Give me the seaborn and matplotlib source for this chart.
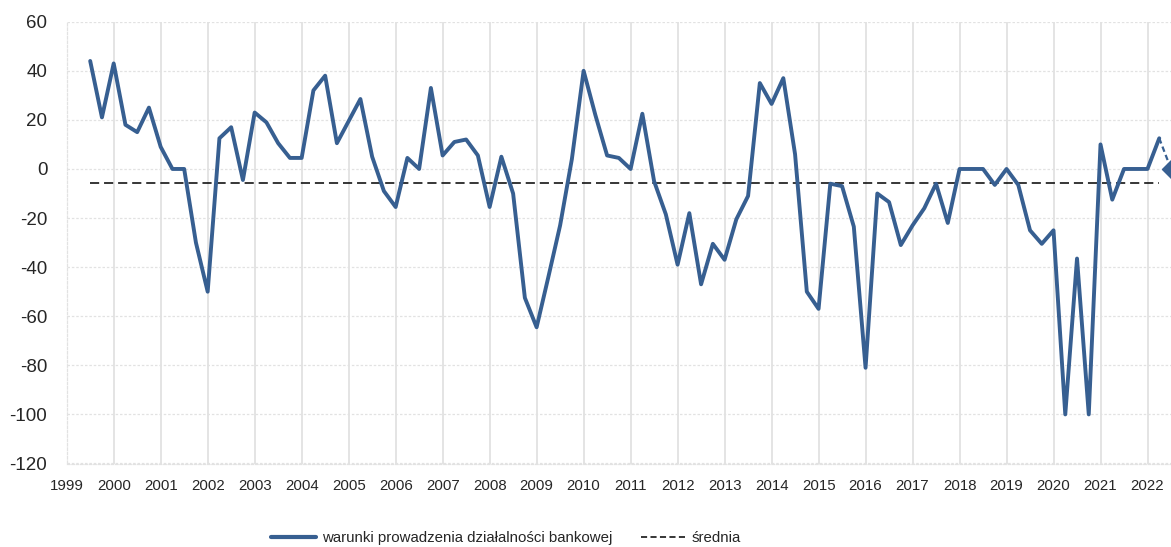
import numpy as np
import pandas as pd
import matplotlib
matplotlib.use("Agg")
import matplotlib.pyplot as plt
import matplotlib.font_manager as fm
from matplotlib.lines import Line2D
import seaborn as sns

# Quarterly index: first observation Q3 1999, last observation Q2 2022
start_year = 1999.5
values = [
    44, 21,
    43, 18, 15, 25,
    9, 0, 0, -30,
    -50, 12.5, 17, -4.5,
    23, 19, 10.5, 4.5,
    4.5, 32, 38, 10.5,
    19.5, 28.5, 5, -9,
    -15.5, 4.5, 0, 33,
    5.5, 11, 12, 5.5,
    -15.5, 5, -10, -52.5,
    -64.5, -44, -23, 4,
    40, 22, 5.5, 4.5,
    0, 22.5, -5, -18.5,
    -39, -18, -47, -30.5,
    -37, -20.5, -11, 35,
    26.5, 37, 6, -50,
    -57, -6, -7, -23.5,
    -81, -10, -13.5, -31,
    -23, -16, -6, -22,
    0, 0, 0, -6.5,
    0, -6.5, -25, -30.5,
    -25, -100, -36.5, -100,
    10, -12.5, 0, 0,
    0, 12.5,
]
# Expected value for the next quarter
forecast_t = 2022.5
forecast_v = 0

years = list(range(1999, 2023))
yticks = [60, 40, 20, 0, -20, -40, -60, -80, -100, -120]
series_label = "warunki prowadzenia działalności bankowej"
mean_label = "średnia"

t = start_year + 0.25 * np.arange(len(values))
df = pd.DataFrame({"t": t, "v": values})
mean_val = float(np.mean(values))
df_mean = pd.DataFrame({"t": [t[0], t[-1]], "v": [mean_val, mean_val]})
df_fc = pd.DataFrame({"t": [t[-1], forecast_t], "v": [values[-1], forecast_v]})

sns.set_style("white")
names = {f.name for f in fm.fontManager.ttflist}
if "Liberation Sans Narrow" in names:
    narrow = ["Liberation Sans Narrow", "DejaVu Sans"]
    xt_size, leg_size = 12.5, 13
else:
    narrow = ["Liberation Sans", "DejaVu Sans"]
    xt_size, leg_size = 10.8, 10.8
regular = ["Liberation Sans", "DejaVu Sans"]
plt.rcParams["font.family"] = regular

blue = "#375f91"
vgrid_c = "#dcdcdc"
hgrid_c = "#e2e2e2"

fig = plt.figure(figsize=(11.71, 5.47), dpi=100)
ax = fig.add_axes([66.7 / 1171, 83.5 / 547, 1 - 66.7 / 1171, (463.5 - 21.7) / 547])

# vertical year grid (solid) and horizontal value grid (dotted)
for y in years[1:]:
    ax.axvline(y, color=vgrid_c, lw=1.1, zorder=0)
for v in yticks:
    ax.axhline(v, color=hgrid_c, lw=0.9, ls=(0, (2, 1.5)), zorder=0)

sns.lineplot(data=df_mean, x="t", y="v", ax=ax, color="black", lw=1.1,
             zorder=2, legend=False)
ax.lines[-1].set_dashes((6, 3.2))
sns.lineplot(data=df, x="t", y="v", ax=ax, color=blue, lw=2.8, zorder=3,
             legend=False)
sns.lineplot(data=df_fc, x="t", y="v", ax=ax, color=blue, lw=1.6, zorder=3,
             legend=False)
ax.lines[-1].set_dashes((2.5, 1.5))
ax.plot([forecast_t], [forecast_v], marker="D", ms=9, color=blue, zorder=4,
        ls="none")

ax.set_xlim(1999, 2022.5)
ax.set_ylim(-120, 60)
ax.set_xticks(years)
ax.set_xticklabels([str(y) for y in years], fontsize=xt_size, family=narrow)
ax.set_yticks(yticks)
ax.set_yticklabels([str(v) for v in yticks], fontsize=13.5, family=regular)
ax.tick_params(axis="x", length=0, pad=11.5)
ax.tick_params(axis="y", length=0, pad=14)
ax.set_xlabel("")
ax.set_ylabel("")

for s in ["top", "right"]:
    ax.spines[s].set_visible(False)
for s in ["left", "bottom"]:
    ax.spines[s].set_color(hgrid_c)
    ax.spines[s].set_linewidth(0.9)
    ax.spines[s].set_linestyle((0, (2, 1.5)))

handles = [
    Line2D([], [], color=blue, lw=3),
    Line2D([], [], color="black", lw=1.1, dashes=(4, 2.2)),
]
fig.legend(handles, [series_label, mean_label], loc="center",
           bbox_to_anchor=(506 / 1171, 1 - 538 / 547), ncol=2, frameon=False,
           prop=fm.FontProperties(family=narrow, size=leg_size),
           handlelength=3.0, handletextpad=0.4, columnspacing=1.9,
           borderaxespad=0, borderpad=0)

fig.savefig("out.png", dpi=100)
